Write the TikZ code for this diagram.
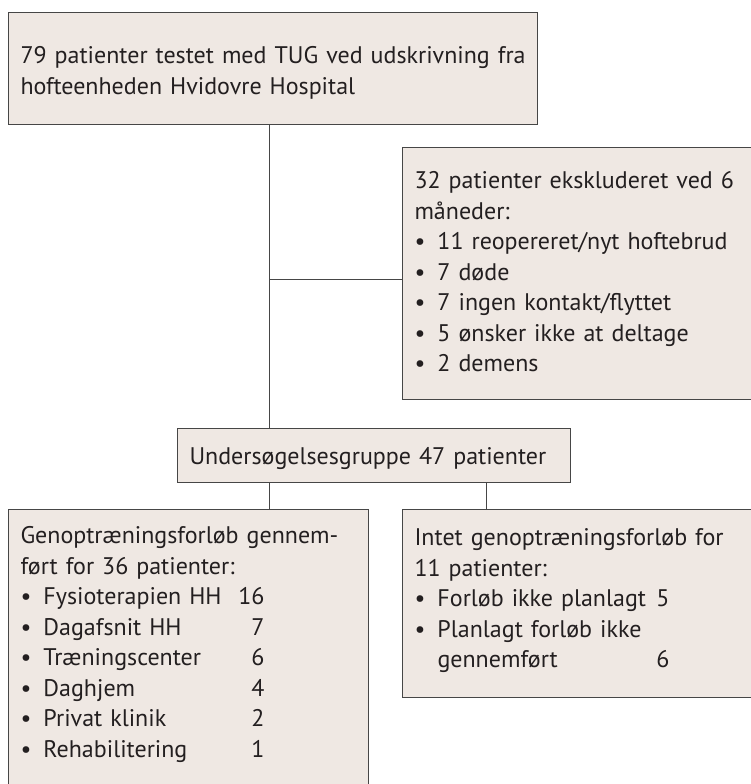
\documentclass[tikz,border=0pt]{standalone}
\usepackage{fontspec}
\setmainfont{PT Sans}
\usepackage{tikz}
\definecolor{box_fill}{RGB}{239,232,227}
\definecolor{box_line}{RGB}{70,70,70}
\definecolor{txt_gray}{RGB}{35,31,32}
\newcommand{\prik}{\makebox[23pt][l]{\textbullet}}
\newcommand{\punkt}[3][221pt]{\prik\makebox[#1][l]{#2}\makebox[0pt][r]{#3}}

\begin{document}
\begin{tikzpicture}[-,x=1pt,y=-1pt]
    \tikzstyle{box}=[draw=box_line, line width=1pt, fill=box_fill, rectangle, anchor=north west, inner xsep=12pt, inner ysep=0pt, align=left, text=txt_gray, font=\fontsize{24}{30.5}\selectfont]
    \tikzstyle{link}=[draw=box_line, line width=1pt]

    \clip (0,0) rectangle (751,784);
    \fill[white] (0,0) rectangle (751,784);

    \node[box, text width=505pt, text height=51pt, text depth=61pt] (start) at (8,12)
      {\mbox{79 patienter testet med TUG ved udskrivning fra}\\hofteenheden Hvidovre Hospital};
    \node[box, text width=336pt, text height=41pt, text depth=211pt] (ekskl) at (402,147)
      {32 patienter ekskluderet ved 6\\måneder:\\
       \prik 11 reopereret/nyt hoftebrud\\
       \prik 7 døde\\
       \prik 7 ingen kontakt/flyttet\\
       \prik 5 ønsker ikke at deltage\\
       \prik 2 demens};
    \node[box, text width=369pt, text height=36pt, text depth=18pt] (gruppe) at (177,428)
      {Undersøgelsesgruppe 47 patienter};
    \node[box, text width=336pt, text height=34pt, text depth=256pt] (forloeb) at (8,509)
      {\mbox{Genoptræningsforløb gennem-}\\ført for 36 patienter:\\
       \punkt{Fysioterapien HH}{16}\\
       \punkt{Dagafsnit HH}{7}\\
       \punkt{Træningscenter}{6}\\
       \punkt{Daghjem}{4}\\
       \punkt{Privat klinik}{2}\\
       \punkt{Rehabilitering}{1}};
    \node[box, text width=336pt, text height=36pt, text depth=152pt] (intet) at (402,509)
      {Intet genoptræningsforløb for\\11 patienter:\\
       \punkt[232pt]{Forløb ikke planlagt}{5}\\
       \prik Planlagt forløb ikke\\
       \hspace*{23pt}\makebox[232pt][l]{gennemført}\makebox[0pt][r]{6}};

    \coordinate (knude) at (269,279);
    \coordinate (gren) at (486,495);

    \path[link]
     (start.south -| knude) edge (gruppe.north -| knude)
     (knude) edge (ekskl.west |- knude)
     (gruppe.south -| knude) edge (forloeb.north -| knude)
     (gruppe.south -| gren) edge (intet.north -| gren)
     ;
\end{tikzpicture}
\end{document}
